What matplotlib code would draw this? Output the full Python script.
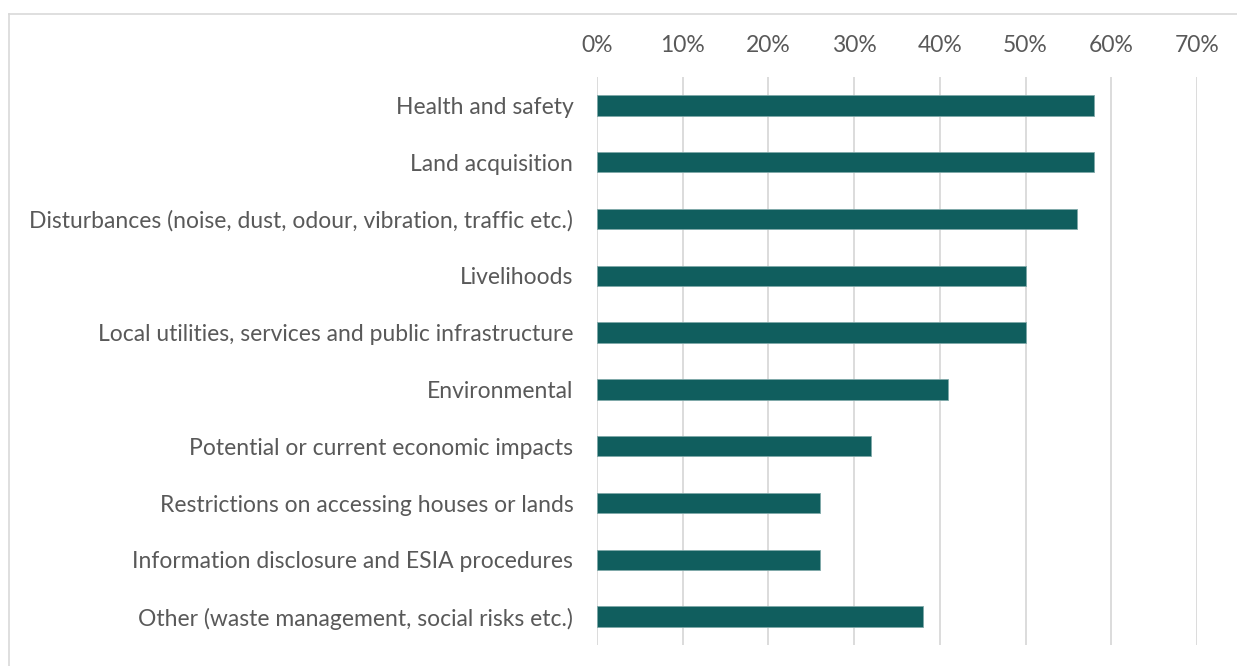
import matplotlib.pyplot as plt
from matplotlib.ticker import PercentFormatter
from matplotlib.lines import Line2D

categories = ["Health and safety", "Land acquisition",
              "Disturbances (noise, dust, odour, vibration, traffic etc.)",
              "Livelihoods", "Local utilities, services and public infrastructure",
              "Environmental", "Potential or current economic impacts",
              "Restrictions on accessing houses or lands",
              "Information disclosure and ESIA procedures",
              "Other (waste management, social risks etc.)"]
values = [58, 58, 56, 50, 50, 41, 32, 26, 26, 38]
xticks = [0, 10, 20, 30, 40, 50, 60, 70]

plt.rcParams['font.family'] = ['Lato', 'DejaVu Sans']

fig = plt.figure(figsize=(12.37, 6.66), dpi=100)
ax = fig.add_axes([0.4826, 0.0315, 0.4851, 0.8529])

# light frame around the chart area
fig.add_artist(Line2D([9/1237, 9/1237], [0, 1-14/666], transform=fig.transFigure, color="#d9d9d9", lw=1.2))
fig.add_artist(Line2D([9/1237, 1], [1-14/666, 1-14/666], transform=fig.transFigure, color="#d9d9d9", lw=1.2))

pos = range(len(categories))
ax.barh(pos, values, height=0.36, color="#105e5e", edgecolor="#7fa9a9", linewidth=0.6, zorder=3)
ax.set_yticks(list(pos))
ax.set_yticklabels(categories)
ax.set_ylim(len(categories) - 0.5, -0.5)
ax.set_xlim(0, 70)
ax.set_xticks(xticks)
ax.xaxis.set_major_formatter(PercentFormatter(decimals=0))
ax.xaxis.tick_top()
ax.grid(axis="x", color="#d9d9d9", lw=1.3, zorder=0)
for s in ax.spines.values():
    s.set_visible(False)
ax.tick_params(axis="both", length=0, labelsize=16.5, colors="#595959")
ax.tick_params(axis="x", pad=15)
ax.tick_params(axis="y", pad=17)

fig.savefig("out.png", dpi=100)
